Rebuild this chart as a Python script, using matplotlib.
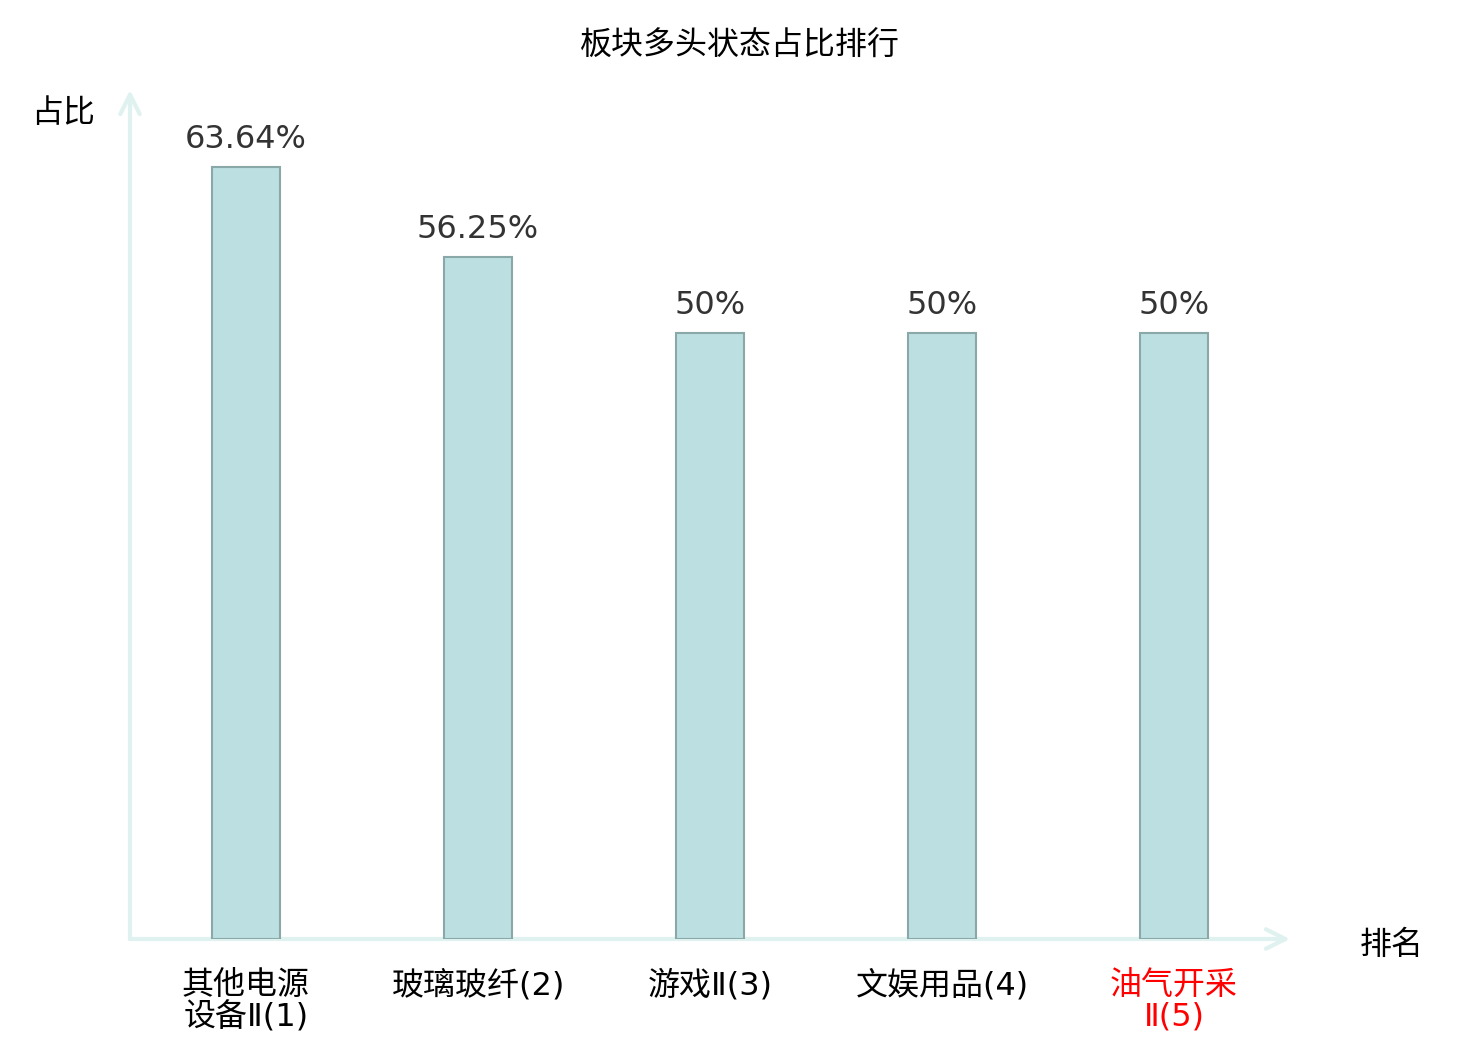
import matplotlib
matplotlib.use("Agg")
import matplotlib.pyplot as plt

plt.rcParams['font.family'] = ['Noto Sans CJK SC', 'DejaVu Sans']

names = ["其他电源\n设备Ⅱ(1)", "玻璃玻纤(2)", "游戏Ⅱ(3)", "文娱用品(4)", "油气开采\nⅡ(5)"]
values = [63.64, 56.25, 50, 50, 50]
value_labels = ["63.64%", "56.25%", "50%", "50%", "50%"]
label_colors = ["black", "black", "black", "black", "red"]

fig = plt.figure(figsize=(14.8, 10.4), dpi=100)
ax = fig.add_axes([130 / 1480, 101 / 1040, 1160 / 1480, 849 / 1040])

x = list(range(len(values)))
ax.bar(x, values, width=0.295, color="#bce0e1", edgecolor="#8aa8a8", linewidth=1.5, zorder=3)

for xi, v, t in zip(x, values, value_labels):
    ax.annotate(t, (xi, v), xytext=(0, 8.5), textcoords="offset points",
                ha="center", va="bottom", fontsize=23, color="#333333",
                family="DejaVu Sans")

ax.set_xlim(-0.5, 4.5)
ax.set_ylim(0, 70)
ax.set_xticks(x)
ax.set_xticklabels(names, fontsize=23, linespacing=1.05)
for lab, c in zip(ax.get_xticklabels(), label_colors):
    lab.set_color(c)
    lab.set_family(['DejaVu Sans', 'Noto Sans CJK SC'])
ax.tick_params(axis="x", length=0, pad=22)
ax.set_yticks([])
for s in ax.spines.values():
    s.set_visible(False)

# axis arrows
arrow_col = "#dff2ef"
ax.annotate("", xy=(1.0, 0), xytext=(0, 0), xycoords="axes fraction",
            arrowprops=dict(arrowstyle="->", color=arrow_col, lw=3, mutation_scale=35,
                            shrinkA=0, shrinkB=0), zorder=1)
ax.annotate("", xy=(0, 1.0), xytext=(0, 0), xycoords="axes fraction",
            arrowprops=dict(arrowstyle="->", color=arrow_col, lw=3, mutation_scale=35,
                            shrinkA=0, shrinkB=0), zorder=1)

fig.text(63 / 1480, 1 - 113 / 1040, "占比", fontsize=23, ha="center", va="center")
fig.text(1392 / 1480, 1 - 945 / 1040, "排名", fontsize=23, ha="center", va="center")
fig.text(740 / 1480, 1 - 46 / 1040, "板块多头状态占比排行", fontsize=23, ha="center", va="center")

fig.savefig("out.png", dpi=100)
